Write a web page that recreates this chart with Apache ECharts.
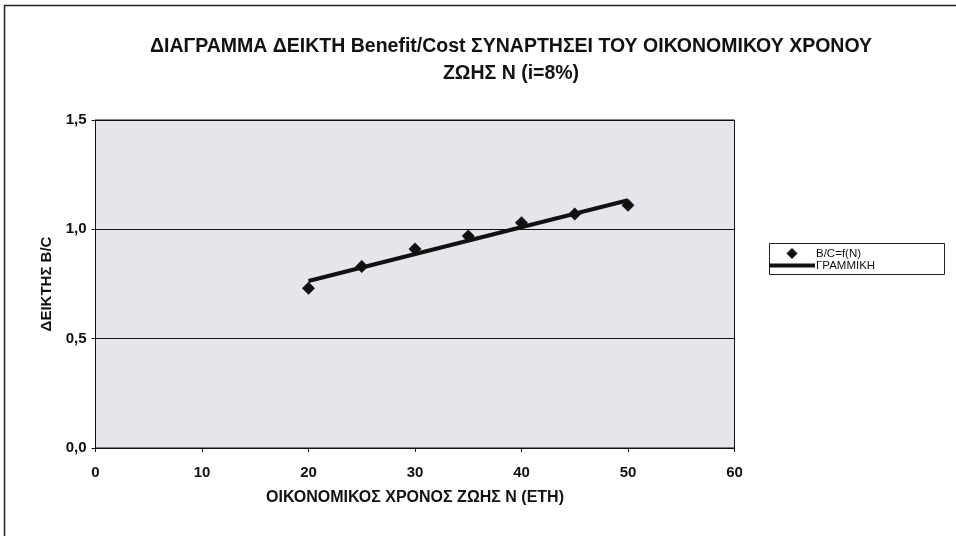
<!DOCTYPE html>
<html>
<head>
<meta charset="utf-8">
<script src="https://cdn.jsdelivr.net/npm/echarts@6/dist/echarts.min.js"></script>
<style>
html,body{margin:0;padding:0;background:#fff;}
#c{width:956px;height:536px;}
</style>
</head>
<body>
<div id="c"></div>
<script>
// Data
const years = [20, 25, 30, 35, 40, 45, 50];
const bcValues = [0.73, 0.83, 0.91, 0.97, 1.03, 1.07, 1.11];
const trendX = [20, 50];
const trendY = [0.764, 1.133];
const yTicks = [0, 0.5, 1.0, 1.5];
const xTicks = [0, 10, 20, 30, 40, 50, 60];
const titleLines = ['ΔΙΑΓΡΑΜΜΑ ΔΕΙΚΤΗ Benefit/Cost ΣΥΝΑΡΤΗΣΕΙ ΤΟΥ ΟΙΚΟΝΟΜΙΚΟΥ ΧΡΟΝΟΥ', 'ΖΩΗΣ Ν (i=8%)'];
const seriesNames = ['B/C=f(N)', 'ΓΡΑΜΜΙΚΗ'];
const xName = 'ΟΙΚΟΝΟΜΙΚΟΣ ΧΡΟΝΟΣ ΖΩΗΣ Ν (ΕΤΗ)';
const yName = 'ΔΕΙΚΤΗΣ B/C';

const chart = echarts.init(document.getElementById('c'), null, {renderer: 'canvas'});
const font = 'Liberation Sans, Arial, sans-serif';

chart.setOption({
  animation: false,
  backgroundColor: '#ffffff',
  textStyle: {fontFamily: font},
  title: {
    text: titleLines.join('\n'),
    left: 506, top: 28, textAlign: 'center',
    textStyle: {fontFamily: font, fontSize: 19.5, fontWeight: 'bold', color: '#111', lineHeight: 27}
  },
  graphic: [{
    type: 'rect', silent: true, z: 0,
    shape: {x: 4.5, y: 5.5, width: 1000, height: 600},
    style: {fill: 'none', stroke: '#222', lineWidth: 1.5}
  }, {
    type: 'rect', silent: true, z: 0,
    shape: {x: 769.5, y: 243.5, width: 175, height: 31},
    style: {fill: '#fff', stroke: '#222', lineWidth: 1}
  }],
  legend: {
    left: 769, top: 247.5,
    orient: 'vertical',
    itemGap: 0,
    itemWidth: 46, itemHeight: 11,
    padding: 0,
    symbolKeepAspect: true,
    textStyle: {fontFamily: font, fontSize: 11.5, color: '#111', padding: [0, 0, 0, -4]},
    data: [
      {name: seriesNames[0], icon: 'path://M5,0L10,5L5,10L0,5Z'},
      {name: seriesNames[1], icon: 'path://M0,0h46v4h-46z'}
    ]
  },
  grid: {
    left: 95.5, right: 221.5, top: 120, bottom: 88,
    show: true, backgroundColor: '#e4e6eb', borderColor: '#111', borderWidth: 1
  },
  xAxis: {
    type: 'value', min: 0, max: 60, interval: 10,
    name: xName, nameLocation: 'middle', nameGap: 42,
    nameTextStyle: {fontFamily: font, fontSize: 16, fontWeight: 'bold', color: '#111'},
    axisLine: {show: true, onZero: false, lineStyle: {color: '#111', width: 1}},
    axisTick: {show: true, length: 4, lineStyle: {color: '#111'}},
    axisLabel: {fontFamily: font, fontSize: 15, fontWeight: 'bold', color: '#111', margin: 17,
      formatter: v => xTicks.includes(v) ? String(v) : ''},
    splitLine: {show: false}
  },
  yAxis: {
    type: 'value', min: 0, max: 1.5, interval: 0.5,
    name: yName, nameLocation: 'middle', nameGap: 39, nameRotate: 90,
    nameTextStyle: {fontFamily: font, fontSize: 15, fontWeight: 'bold', color: '#111'},
    axisLine: {show: true, lineStyle: {color: '#111', width: 1}},
    axisTick: {show: true, length: 4, lineStyle: {color: '#111'}},
    axisLabel: {fontFamily: font, fontSize: 15, fontWeight: 'bold', color: '#111', margin: 9,
      formatter: v => yTicks.includes(v) ? v.toFixed(1).replace('.', ',') : ''},
    splitLine: {show: true, lineStyle: {color: '#111', width: 1}}
  },
  series: [
    {
      name: seriesNames[0], type: 'scatter', z: 3,
      symbol: 'diamond', symbolSize: 13,
      itemStyle: {color: '#111', opacity: 1},
      data: years.map((x, i) => [x, bcValues[i]])
    },
    {
      name: seriesNames[1], type: 'line', z: 4,
      symbol: 'none', showSymbol: false,
      lineStyle: {color: '#111', width: 4},
      itemStyle: {color: '#111'},
      data: trendX.map((x, i) => [x, trendY[i]])
    }
  ]
});
</script>
</body>
</html>
